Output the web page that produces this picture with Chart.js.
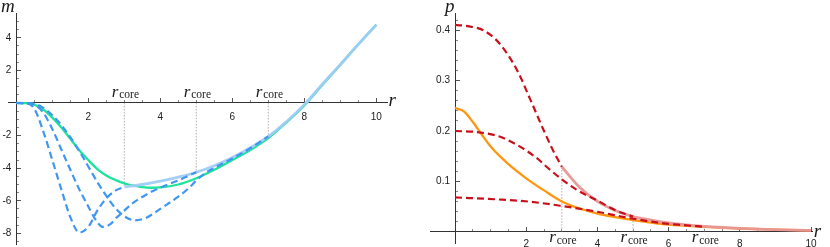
<!DOCTYPE html>
<html><head><meta charset="utf-8">
<script src="https://cdn.jsdelivr.net/npm/chart.js@4.4.0/dist/chart.umd.min.js"></script>
<style>
html,body{margin:0;padding:0;background:#fff;}
#wrap{position:relative;width:830px;height:247px;overflow:hidden;background:#fff}
.c{position:absolute;top:0;width:415px;height:247px}
</style></head><body>
<div id="wrap">
<div class="c" style="left:0"><canvas id="left" width="415" height="247"></canvas></div>
<div class="c" style="left:415px"><canvas id="right" width="415" height="247"></canvas></div>
</div>
<script>
// ---------- LEFT PANEL DATA (m vs r) ----------
const rCore = [3, 5, 7];

const rG = [0,0.25,0.5,0.75,1,1.25,1.5,1.75,2,2.25,2.5,2.75,3,3.25,3.5,3.75,4,4.5,5,5.5,6,6.5,7,7.5,8,8.5,9,9.5,10];
const mG = [0,-0.01,-0.1,-0.4,-0.9,-1.5,-2.2,-2.9,-3.5,-4.05,-4.45,-4.72,-4.93,-5.07,-5.16,-5.2,-5.18,-5.0,-4.62,-4.1,-3.5,-2.88,-2.15,-1.2,-0.15,1.1,2.35,3.6,4.8];

const rA = [0,0.3,0.5,0.75,1.0,1.25,1.5,1.75,2.0,2.25,2.5,2.75,3.0];
const mA = [0,-0.02,-0.35,-1.75,-3.5,-5.3,-7.0,-7.95,-7.6,-6.6,-5.85,-5.38,-5.15];

const rB = [0,0.3,0.5,0.75,1.0,1.25,1.5,1.75,2.0,2.2,2.4,2.6,2.8,3.0,3.2,3.4,3.75,4.1,4.5,5.0];
const mB = [0,-0.02,-0.1,-0.6,-1.6,-2.85,-4.1,-5.3,-6.35,-7.15,-7.6,-7.45,-7.0,-6.6,-6.2,-5.9,-5.45,-5.1,-4.75,-4.25];

const rC = [0,0.3,0.5,0.75,1.0,1.25,1.5,1.75,2.0,2.25,2.5,2.75,3.0,3.3,3.6,3.9,4.2,4.5,4.8,5.0,5.25,5.5,6.0,6.5,7.0];
const mC = [0,-0.01,-0.05,-0.3,-0.75,-1.35,-2.1,-2.95,-3.9,-4.85,-5.7,-6.45,-6.95,-7.2,-7.05,-6.65,-6.2,-5.75,-5.2,-4.75,-4.3,-3.98,-3.4,-2.78,-2.05];

const rE = [3,3.5,4,4.5,5,5.5,6,6.5,7,7.5,8,8.5,9,9.5,10];
const mE = [-5.15,-5.0,-4.8,-4.55,-4.25,-3.85,-3.35,-2.75,-2.05,-1.15,-0.1,1.15,2.35,3.6,4.8];

const xMajorL = [2,4,6,8,10];
const xMajorLabelsL = ['2','4','6','8','10'];
const yMajorL = [-8,-6,-4,-2,2,4];
const yMajorLabelsL = ['-8','-6','-4','-2','2','4'];

// ---------- RIGHT PANEL DATA (p vs r) ----------
const rD1 = [0,0.4,0.8,1.25,1.75,2.1,2.5,2.75,3.0];
const pD1 = [0.411,0.408,0.400,0.374,0.320,0.265,0.200,0.162,0.129];

const rD2 = [0,0.6,1.25,1.8,2.3,2.65,3.0,3.4,3.7,4.0,4.35,4.7,5.0];
const pD2 = [0.2,0.198,0.189,0.17,0.146,0.124,0.104,0.084,0.072,0.062,0.048,0.037,0.030];

const rD3 = [0,1.2,2.1,3.0,4.0,4.9,5.85,6.4,7.0];
const pD3 = [0.068,0.064,0.0595,0.051,0.0395,0.027,0.0165,0.013,0.0098];

const rO = [0,0.25,0.5,0.75,1.0,1.5,2.0,2.5,3.0,3.5,4.0,4.5,5.0,5.5,6.0,6.5,7.0,7.5,8,9,10];
const pO = [0.246,0.239,0.218,0.193,0.169,0.134,0.106,0.082,0.060,0.046,0.036,0.029,0.023,0.018,0.014,0.0115,0.0095,0.0078,0.0062,0.004,0.0025];

const rX = [3,3.5,4,4.5,5,5.5,6,6.5,7,7.5,8,8.5,9,9.5,10];
const pX = [0.129,0.088,0.060,0.042,0.030,0.023,0.0175,0.0135,0.0105,0.0082,0.0064,0.005,0.0039,0.003,0.0023];

const xMajorR = [2,4,6,8,10];
const xMajorLabelsR = ['2','4','6','8','10'];
const yMajorR = [0.1,0.2,0.3,0.4];
const yMajorLabelsR = ['0.1','0.2','0.3','0.4'];

// ---------- helpers ----------
const pts = (xs, ys) => xs.map((x, i) => ({x, y: ys[i]}));
function range(a, b, s) { const o = []; for (let v = a; v <= b + 1e-9; v += s) o.push(Math.round(v * 1000) / 1000); return o; }
function minorOf(all, major) { return all.filter(v => !major.some(m => Math.abs(m - v) < 1e-9) && Math.abs(v) > 1e-9); }

const TICK_FONT = {family: "'Liberation Sans', Arial, sans-serif", size: 10};
const SERIF = "'Liberation Serif', 'DejaVu Serif', serif";

function line(data, color, width, dash, order) {
  return {data, borderColor: color, borderWidth: width, borderDash: dash || [], pointRadius: 0,
          fill: false, cubicInterpolationMode: 'monotone', tension: 0.4, order, borderCapStyle: 'butt'};
}

// keep the plot area exactly where layout.padding puts it
const noPad = s => { s.paddingTop = 0; s.paddingBottom = 0; s.paddingLeft = 0; s.paddingRight = 0; };

function makeScales(o) {
  const common = {type: 'linear', afterFit: noPad};
  return {
    x: {...common, min: o.xmin, max: o.xmax, position: {y: 0},
        afterBuildTicks: s => { s.ticks = o.xMajor.map(v => ({value: v})); },
        grid: {display: true, drawOnChartArea: false, drawTicks: true, tickLength: -5, tickColor: '#555', tickWidth: 1},
        border: {display: true, color: '#333', width: 1},
        ticks: {font: TICK_FONT, color: '#222', padding: o.xpad, autoSkip: false, maxRotation: 0,
                callback: (v, i) => o.xLabels[i]}},
    xm: {...common, min: o.xmin, max: o.xmax, position: {y: 0},
        afterBuildTicks: s => { s.ticks = o.xMinor.map(v => ({value: v})); },
        grid: {display: true, drawOnChartArea: false, drawTicks: true, tickLength: -3, tickColor: '#888', tickWidth: 1},
        border: {display: false},
        ticks: {font: TICK_FONT, autoSkip: false, maxRotation: 0, callback: () => ''}},
    y: {...common, min: o.ymin, max: o.ymax, position: {x: 0},
        afterBuildTicks: s => { s.ticks = o.yMajor.map(v => ({value: v})); },
        grid: {display: true, drawOnChartArea: false, drawTicks: true, tickLength: -5, tickColor: '#555', tickWidth: 1},
        border: {display: true, color: '#333', width: 1},
        ticks: {font: TICK_FONT, color: '#222', padding: 4, autoSkip: false,
                callback: (v, i) => o.yLabels[i] + '\u2002'}},
    ym: {...common, min: o.ymin, max: o.ymax, position: {x: 0},
        afterBuildTicks: s => { s.ticks = o.yMinor.map(v => ({value: v})); },
        grid: {display: true, drawOnChartArea: false, drawTicks: true, tickLength: -3, tickColor: '#888', tickWidth: 1},
        border: {display: false},
        ticks: {font: TICK_FONT, autoSkip: false, callback: () => ''}}
  };
}

function rcoreLabels(chart, dyR, dyCore) {
  const ctx = chart.ctx, xs = chart.scales.x, y0 = chart.scales.y.getPixelForValue(0);
  ctx.save();
  ctx.fillStyle = '#1a1a1a';
  ctx.textBaseline = 'alphabetic';
  ctx.textAlign = 'left';
  rCore.forEach(rc => {
    const x0 = xs.getPixelForValue(rc) - 12.5;
    ctx.font = "italic 17px " + SERIF;
    ctx.fillText('r', x0, y0 + dyR);
    const w = ctx.measureText('r').width;
    ctx.font = "11.5px " + SERIF;
    ctx.fillText('core', x0 + w + 0.8, y0 + dyCore);
  });
  ctx.restore();
}

function axisTitle(chart, txt, x, y) {
  const ctx = chart.ctx;
  ctx.save();
  ctx.fillStyle = '#1a1a1a';
  ctx.font = "italic 19px " + SERIF;
  ctx.textAlign = 'left';
  ctx.textBaseline = 'alphabetic';
  ctx.fillText(txt, x, y);
  ctx.restore();
}

// ---------- LEFT CHART ----------
const blue = '#4196f0', lightBlue = 'rgba(160,204,246,0.95)', green = '#1ee39c', dotGray = '#9a9a9a';
const leftDots = rCore.map((rc, i) => {
  const end = [mA, mB, mC][i];
  return line([{x: rc, y: 0}, {x: rc, y: end[end.length - 1]}], dotGray, 0.8, [1.5, 1.5], 10);
});

new Chart(document.getElementById('left'), {
  type: 'line',
  data: {datasets: [
    ...leftDots,
    line(pts(rG, mG), green, 2.3, null, 5),
    line(pts(rE, mE), lightBlue, 2.8, null, 4),
    line(pts(rA, mA), blue, 2.2, [7, 4], 3),
    line(pts(rB, mB), blue, 2.2, [7, 4], 2),
    line(pts(rC, mC), blue, 2.2, [7, 4], 1)
  ]},
  options: {
    responsive: false, animation: false, devicePixelRatio: 1,
    layout: {padding: {left: 8.4, right: 27.9, top: 13.35, bottom: 2.2}},
    plugins: {legend: {display: false}, tooltip: {enabled: false}},
    scales: makeScales({xmin: -0.22, xmax: 10.3, ymin: -8.7, ymax: 5.5,
      xMajor: xMajorL, xLabels: xMajorLabelsL, xMinor: minorOf(range(0, 10, 0.5), xMajorL), xpad: 13.5,
      yMajor: yMajorL, yLabels: yMajorLabelsL, yMinor: minorOf(range(-8.5, 5, 0.5), yMajorL)})
  },
  plugins: [{id: 'annL', afterDraw(chart) {
    rcoreLabels(chart, -6, -4.5);
    const y0 = chart.scales.y.getPixelForValue(0);
    axisTitle(chart, 'm', 1, 11.5);
    axisTitle(chart, 'r', chart.chartArea.right + 1.5, y0 + 3.5);
  }}]
});

// ---------- RIGHT CHART ----------
const red = '#c8101a', lightRed = 'rgba(232,150,150,0.95)', orange = '#ff960f';
const rightDots = rCore.map((rc, i) => {
  const end = [pD1, pD2, pD3][i];
  return line([{x: rc, y: 0}, {x: rc, y: end[end.length - 1]}], dotGray, 0.8, [1.5, 1.5], 10);
});

new Chart(document.getElementById('right'), {
  type: 'line',
  data: {datasets: [
    ...rightDots,
    line(pts(rO, pO), orange, 2.3, null, 5),
    line(pts(rX, pX), lightRed, 2.8, null, 4),
    line(pts(rD1, pD1), red, 2.2, [7, 4], 3),
    line(pts(rD2, pD2), red, 2.2, [7, 4], 2),
    line(pts(rD3, pD3), red, 2.2, [7, 4], 1)
  ]},
  options: {
    responsive: false, animation: false, devicePixelRatio: 1,
    layout: {padding: {left: 15.1, right: 17.2, top: 13.3, bottom: 3.8}},
    plugins: {legend: {display: false}, tooltip: {enabled: false}},
    scales: makeScales({xmin: -0.7, xmax: 10.05, ymin: -0.023, ymax: 0.434,
      xMajor: xMajorR, xLabels: xMajorLabelsR, xMinor: minorOf(range(0, 10, 0.5), xMajorR), xpad: 12,
      yMajor: yMajorR, yLabels: yMajorLabelsR, yMinor: minorOf(range(0.02, 0.42, 0.02), yMajorR)})
  },
  plugins: [{id: 'annR', afterDraw(chart) {
    rcoreLabels(chart, 10, 12);
    const y0 = chart.scales.y.getPixelForValue(0);
    const x0 = chart.scales.x.getPixelForValue(0);
    axisTitle(chart, 'p', x0 - 10, 11.5);
    axisTitle(chart, 'r', chart.chartArea.right + 1, y0 + 5.5);
  }}]
});
</script>
</body></html>
